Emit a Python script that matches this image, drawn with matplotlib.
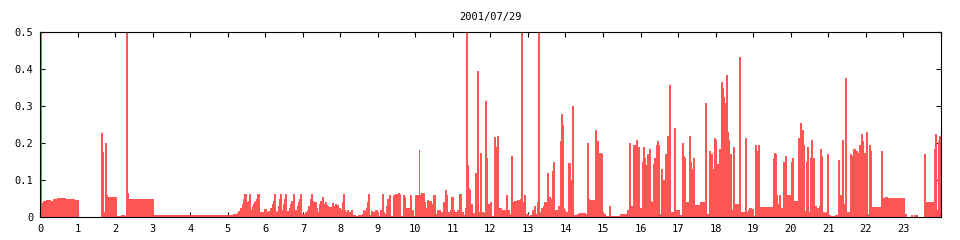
import numpy as np
import matplotlib
matplotlib.use('Agg')
import matplotlib.pyplot as plt

# step data: hour where each level starts, and its value
t_night = [0.0, 0.027, 0.06, 0.15, 0.25, 0.35, 0.45, 0.65, 0.90, 1.00,
           1.61, 1.64, 1.67, 1.72, 1.75, 1.78, 2.01, 2.15, 2.23, 2.28,
           2.31, 2.34, 3.00]
v_night = [0.5, 0.038, 0.045, 0.048, 0.045, 0.05, 0.053, 0.05, 0.048, 0.002,
           0.227, 0.177, 0.015, 0.2, 0.06, 0.055, 0.003, 0.006, 0.003, 0.5,
           0.065, 0.05, 0.006]

t_morning = [5.148, 5.236, 5.28, 5.325, 5.37, 5.414, 5.44, 5.485, 5.52, 5.548,
             5.574, 5.60, 5.627, 5.654, 5.68, 5.707, 5.734, 5.76, 5.787, 5.84,
             5.965, 6.018, 6.081, 6.125, 6.17, 6.196, 6.232, 6.259, 6.303, 6.33,
             6.356, 6.383, 6.41, 6.454, 6.48, 6.507, 6.534, 6.56, 6.587, 6.623,
             6.659, 6.694, 6.73, 6.756, 6.792, 6.836, 6.872, 6.908, 6.934, 6.961,
             6.996, 7.032, 7.068, 7.103, 7.148, 7.192, 7.219, 7.245, 7.28, 7.308,
             7.343, 7.37, 7.441, 7.468, 7.494, 7.521, 7.548, 7.583, 7.61, 7.636,
             7.68, 7.725, 7.76, 7.788, 7.814, 7.85, 7.876, 7.948, 7.99, 8.036]
v_morning = [0.009, 0.012, 0.018, 0.025, 0.035, 0.05, 0.063, 0.015, 0.04, 0.045,
             0.063, 0.015, 0.02, 0.03, 0.035, 0.04, 0.045, 0.05, 0.063, 0.015,
             0.022, 0.015, 0.017, 0.025, 0.035, 0.045, 0.063, 0.015, 0.017, 0.03,
             0.05, 0.063, 0.015, 0.02, 0.035, 0.05, 0.063, 0.015, 0.017, 0.025,
             0.035, 0.045, 0.063, 0.015, 0.02, 0.03, 0.04, 0.05, 0.063, 0.01,
             0.005, 0.01, 0.015, 0.02, 0.03, 0.05, 0.063, 0.045, 0.035, 0.04,
             0.025, 0.015, 0.035, 0.045, 0.033, 0.055, 0.035, 0.04, 0.033, 0.03,
             0.028, 0.025, 0.028, 0.038, 0.03, 0.035, 0.032, 0.025, 0.02, 0.04]

t_late_morning = [8.06, 8.099, 8.125, 8.17, 8.205, 8.24, 8.276, 8.303, 8.348, 8.392,
                  8.48, 8.57, 8.614, 8.64, 8.676, 8.703, 8.73, 8.756, 8.774, 8.81,
                  8.845, 8.925, 8.97, 9.005, 9.059, 9.112, 9.13, 9.166, 9.219, 9.255,
                  9.29, 9.325, 9.396, 9.432, 9.468, 9.503, 9.539, 9.566, 9.60, 9.663,
                  9.699, 9.734, 9.77, 9.814, 9.859, 9.894, 9.93, 10.0, 10.09, 10.108,
                  10.143, 10.232, 10.268, 10.303, 10.339, 10.392, 10.428, 10.463, 10.525, 10.57,
                  10.659, 10.703, 10.748, 10.783, 10.819, 10.854, 10.925, 10.961, 10.996, 11.032,
                  11.068, 11.103, 11.139, 11.174, 11.21, 11.245, 11.28, 11.316]
v_late_morning = [0.063, 0.02, 0.013, 0.02, 0.008, 0.013, 0.02, 0.007, 0.005, 0.003,
                  0.007, 0.01, 0.02, 0.017, 0.025, 0.04, 0.063, 0.01, 0.005, 0.018,
                  0.015, 0.02, 0.015, 0.003, 0.02, 0.063, 0.015, 0.01, 0.03, 0.05,
                  0.06, 0.003, 0.06, 0.045, 0.063, 0.06, 0.067, 0.063, 0.003, 0.06,
                  0.055, 0.025, 0.022, 0.025, 0.06, 0.02, 0.003, 0.06, 0.183, 0.06,
                  0.065, 0.04, 0.025, 0.048, 0.043, 0.045, 0.035, 0.06, 0.01, 0.02,
                  0.015, 0.003, 0.04, 0.075, 0.06, 0.015, 0.02, 0.055, 0.02, 0.015,
                  0.003, 0.02, 0.015, 0.063, 0.01, 0.015, 0.005, 0.025]

t_midday = [11.352, 11.37, 11.405, 11.432, 11.459, 11.521, 11.592, 11.619, 11.646, 11.663,
            11.734, 11.752, 11.788, 11.823, 11.859, 11.876, 11.903, 11.992, 12.019, 12.081,
            12.108, 12.135, 12.161, 12.188, 12.277, 12.392, 12.419, 12.446, 12.481, 12.526,
            12.552, 12.57, 12.615, 12.703, 12.748, 12.792, 12.819, 12.846, 12.881, 12.926,
            12.988, 13.041, 13.112, 13.148, 13.183, 13.237, 13.263, 13.299, 13.343, 13.388,
            13.432, 13.468, 13.503, 13.53, 13.566, 13.60, 13.628, 13.663, 13.699, 13.733,
            13.79, 13.81, 13.858, 13.884, 13.902, 13.93, 13.956, 13.99]
v_midday = [0.5, 0.14, 0.08, 0.075, 0.035, 0.012, 0.12, 0.045, 0.395, 0.015,
            0.175, 0.015, 0.012, 0.006, 0.315, 0.16, 0.035, 0.04, 0.003, 0.216,
            0.19, 0.125, 0.22, 0.025, 0.02, 0.015, 0.06, 0.02, 0.01, 0.005,
            0.165, 0.04, 0.045, 0.048, 0.04, 0.05, 0.5, 0.04, 0.06, 0.01,
            0.003, 0.005, 0.02, 0.03, 0.01, 0.04, 0.5, 0.015, 0.025, 0.03,
            0.04, 0.03, 0.12, 0.035, 0.055, 0.05, 0.125, 0.15, 0.005, 0.02,
            0.028, 0.03, 0.206, 0.28, 0.25, 0.025, 0.02, 0.015]

t_afternoon = [14.04, 14.08, 14.107, 14.134, 14.169, 14.196, 14.3, 14.347, 14.524, 14.569,
               14.596, 14.64, 14.791, 14.818, 14.844, 14.88, 14.906, 14.942, 14.969, 15.013,
               15.058, 15.147, 15.187, 15.458, 15.502, 15.591, 15.636, 15.68, 15.707, 15.742,
               15.778, 15.813, 15.84, 15.867, 15.902, 15.929, 15.964, 16.027, 16.053, 16.08,
               16.116, 16.142, 16.16, 16.187, 16.213, 16.24, 16.267, 16.32, 16.347, 16.373,
               16.40, 16.427, 16.453, 16.48, 16.542, 16.569, 16.596, 16.622, 16.649, 16.676,
               16.702, 16.729, 16.764, 16.791, 16.898, 16.924, 17.013, 17.04, 17.084, 17.111,
               17.138, 17.164, 17.191, 17.289, 17.307, 17.333, 17.378, 17.396, 17.422, 17.591,
               17.68, 17.724, 17.751, 17.813, 17.84, 17.876, 17.902, 17.929, 17.956, 17.991]
v_afternoon = [0.005, 0.147, 0.1, 0.005, 0.3, 0.005, 0.01, 0.012, 0.008, 0.2,
               0.05, 0.047, 0.235, 0.19, 0.206, 0.02, 0.175, 0.17, 0.015, 0.01,
               0.003, 0.03, 0.003, 0.008, 0.01, 0.008, 0.02, 0.2, 0.01, 0.03,
               0.016, 0.195, 0.035, 0.21, 0.16, 0.19, 0.025, 0.15, 0.19, 0.16,
               0.025, 0.14, 0.17, 0.05, 0.185, 0.045, 0.04, 0.145, 0.16, 0.025,
               0.195, 0.205, 0.195, 0.01, 0.13, 0.005, 0.1, 0.01, 0.17, 0.035,
               0.22, 0.015, 0.358, 0.015, 0.24, 0.02, 0.005, 0.003, 0.005, 0.2,
               0.165, 0.16, 0.04, 0.22, 0.15, 0.005, 0.13, 0.16, 0.032, 0.04,
               0.037, 0.31, 0.01, 0.18, 0.02, 0.17, 0.13, 0.01, 0.215, 0.21]

t_evening = [18.018, 18.044, 18.071, 18.098, 18.124, 18.151, 18.178, 18.204, 18.231, 18.258,
             18.284, 18.311, 18.338, 18.364, 18.409, 18.444, 18.471, 18.498, 18.622, 18.658,
             18.791, 18.818, 18.853, 18.889, 18.933, 18.996, 19.049, 19.076, 19.102, 19.129,
             19.156, 19.529, 19.556, 19.582, 19.609, 19.636, 19.68, 19.724, 19.796, 19.822,
             19.849, 19.876, 20.018, 20.044, 20.071, 20.204, 20.24, 20.267, 20.293, 20.32,
             20.347, 20.409, 20.436, 20.462, 20.489, 20.524, 20.551, 20.578, 20.613, 20.676,
             20.764, 20.791, 20.818, 20.844, 20.898, 20.942, 20.969, 20.996, 21.04, 21.191,
             21.236, 21.271, 21.298, 21.378, 21.396, 21.431, 21.458, 21.476, 21.564, 21.591,
             21.618, 21.644, 21.671, 21.707, 21.751, 21.778, 21.804, 21.831, 21.858, 21.884,
             21.911, 21.938, 22.0, 22.027, 22.062, 22.098, 22.124, 22.151, 22.418, 22.444,
             22.524, 22.569, 23.013, 23.058, 23.084, 23.209, 23.244, 23.298, 23.369, 23.547,
             23.573, 23.831, 23.858, 23.884, 23.929, 23.964]
v_evening = [0.005, 0.145, 0.005, 0.185, 0.01, 0.365, 0.35, 0.325, 0.305, 0.31,
             0.385, 0.23, 0.21, 0.17, 0.015, 0.02, 0.19, 0.035, 0.432, 0.013,
             0.215, 0.015, 0.02, 0.025, 0.022, 0.003, 0.195, 0.05, 0.18, 0.195,
             0.028, 0.16, 0.175, 0.17, 0.06, 0.035, 0.06, 0.025, 0.15, 0.145,
             0.165, 0.06, 0.15, 0.16, 0.043, 0.215, 0.255, 0.195, 0.235, 0.195,
             0.018, 0.15, 0.19, 0.005, 0.015, 0.16, 0.21, 0.16, 0.03, 0.025,
             0.03, 0.185, 0.165, 0.015, 0.012, 0.015, 0.17, 0.005, 0.003, 0.005,
             0.003, 0.155, 0.06, 0.21, 0.03, 0.035, 0.377, 0.015, 0.01, 0.17,
             0.005, 0.165, 0.185, 0.02, 0.18, 0.175, 0.17, 0.195, 0.18, 0.225,
             0.205, 0.175, 0.23, 0.005, 0.01, 0.195, 0.18, 0.027, 0.18, 0.053,
             0.055, 0.053, 0.003, 0.01, 0.002, 0.005, 0.002, 0.005, 0.002, 0.17,
             0.04, 0.185, 0.225, 0.02, 0.205, 0.22]

hours = np.array(t_night + t_morning + t_late_morning + t_midday + t_afternoon + t_evening + [24.0])
vals = np.array(v_night + v_morning + v_late_morning + v_midday + v_afternoon + v_evening)
vals = np.append(vals, vals[-1])

red = '#ff5555'
mono = 'DejaVu Sans Mono'

fig = plt.figure(figsize=(9.6, 2.4), dpi=100)
ax = fig.add_axes([0.042, 0.0946, 0.9378, 0.7708])

# data goes over the tick marks, like gnuplot does
ax.fill_between(hours, vals, step='post', color=red, linewidth=0, antialiased=False, zorder=3)
ax.step(hours, vals, where='post', color=red, linewidth=0.7, antialiased=False, zorder=3)

ax.set_xlim(0, 24)
ax.set_ylim(0, 0.5)
ax.set_xticks(range(25))
ax.set_xticklabels([str(h) for h in range(24)] + [''], fontsize=7.5, family=mono)
ax.set_yticks([0, 0.1, 0.2, 0.3, 0.4, 0.5])
ax.set_yticklabels(['0', '0.1', '0.2', '0.3', '0.4', '0.5'], fontsize=7.5, family=mono)
ax.tick_params(direction='in', length=3.6, width=0.8, top=True, right=True, pad=5)
for s in ax.spines.values():
    s.set_linewidth(0.8)
    s.set_zorder(4)

ax.set_title('2001/07/29', fontsize=7.5, family=mono, pad=9)

fig.savefig('out.png', dpi=100)
